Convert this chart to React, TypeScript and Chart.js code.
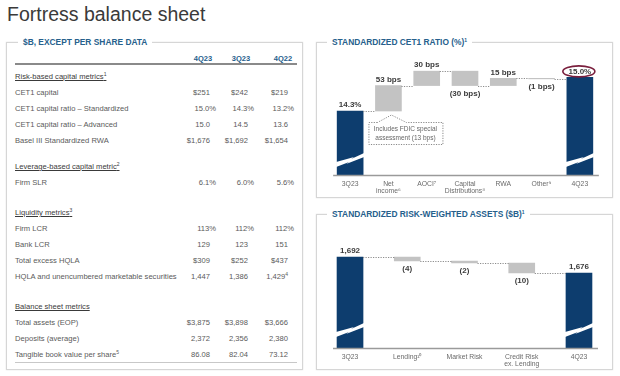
import React, { useEffect, useRef } from 'react';
import { Chart, registerables } from 'chart.js';
Chart.register(...registerables);

const FONT = '"Liberation Sans", Arial, Helvetica, sans-serif';
const BLUE_TXT = '#26608c';
const BAR_BLUE = '#0d3d6e';
const BAR_GRAY = '#c3c3c3';

// ---------- table data ----------
const tableColumns = ['4Q23', '3Q23', '4Q22'];
const riskHeading = 'Risk-based capital metrics^1';
const riskLabels = ['CET1 capital', 'CET1 capital ratio – Standardized', 'CET1 capital ratio – Advanced', 'Basel III Standardized RWA'];
const riskValues = [['$251', '$242', '$219'], ['15.0%', '14.3%', '13.2%'], ['15.0', '14.5', '13.6'], ['$1,676', '$1,692', '$1,654']];
const leverageHeading = 'Leverage-based capital metric^2';
const leverageLabels = ['Firm SLR'];
const leverageValues = [['6.1%', '6.0%', '5.6%']];
const liquidityHeading = 'Liquidity metrics^3';
const liquidityLabels = ['Firm LCR', 'Bank LCR', 'Total excess HQLA', 'HQLA and unencumbered marketable securities'];
const liquidityValues = [['113%', '112%', '112%'], ['129', '123', '151'], ['$309', '$252', '$437'], ['1,447', '1,386', '1,429^4']];
const balanceHeading = 'Balance sheet metrics';
const balanceLabels = ['Total assets (EOP)', 'Deposits (average)', 'Tangible book value per share^5'];
const balanceValues = [['$3,875', '$3,898', '$3,666'], ['2,372', '2,356', '2,380'], ['86.08', '82.04', '73.12']];

// ---------- CET1 waterfall data ----------
const cetCategories = [['3Q23'], ['Net', 'income⁶'], ['AOCI⁷'], ['Capital', 'Distributions⁸'], ['RWA'], ['Other⁹'], ['4Q23']];
const cetStart = 14.3;
const cetChanges = [0.53, 0.30, -0.30, 0.15, -0.01];
const cetEnd = 15.0;
const cetLabels = ['14.3%', '53 bps', '30 bps', '(30 bps)', '15 bps', '(1 bps)', '15.0%'];
const cetNote = ['Includes FDIC special', 'assessment (13 bps)'];

// ---------- RWA waterfall data ----------
const rwaCategories = [['3Q23'], ['Lending¹⁰'], ['Market Risk'], ['Credit Risk', 'ex. Lending'], ['4Q23']];
const rwaStart = 1692;
const rwaChanges = [-4, -2, -10];
const rwaEnd = 1676;
const rwaLabels = ['1,692', '(4)', '(2)', '(10)', '1,676'];

function buildWaterfall(start: number, changes: number[], end: number) {
  const bars: number[][] = [[0, start]];
  const levels: number[] = [start];
  const neg: boolean[] = [false];
  let cur = start;
  for (const c of changes) {
    const nxt = Math.round((cur + c) * 1000) / 1000;
    bars.push([cur, nxt]);
    neg.push(c < 0);
    cur = nxt;
    levels.push(cur);
  }
  bars.push([0, end]);
  levels.push(end);
  neg.push(false);
  return { bars, levels, neg };
}

function drawBolt(ctx: CanvasRenderingContext2D, l: number, r: number, cy: number) {
  const xm = (l + r) / 2;
  ctx.fillStyle = '#ffffff';
  ctx.beginPath();
  ctx.moveTo(l - 1, cy + 2);
  ctx.lineTo(xm + 4, cy - 3);
  ctx.lineTo(xm + 1, cy - 1);
  ctx.lineTo(r + 1, cy - 7);
  ctx.lineTo(r + 1, cy - 3);
  ctx.lineTo(xm - 4, cy + 4);
  ctx.lineTo(xm - 1, cy + 2);
  ctx.lineTo(l - 1, cy + 7);
  ctx.closePath();
  ctx.fill();
}

const wfPlugin = {
  id: 'wf',
  afterDatasetsDraw(chart: any, _args: any, o: any) {
    const { ctx, chartArea } = chart;
    const ys = chart.scales.y;
    const els = chart.getDatasetMeta(0).data;
    const n = els.length;
    const box = (i: number) => {
      const p = els[i].getProps(['x', 'y', 'base', 'width'], true);
      return { l: p.x - p.width / 2, r: p.x + p.width / 2, x: p.x, t: Math.min(p.y, p.base), b: Math.max(p.y, p.base) };
    };
    ctx.save();
    const b0 = box(0);
    const bn = box(n - 1);
    ctx.strokeStyle = '#9a9a9a';
    ctx.lineWidth = 1.5;
    ctx.beginPath();
    ctx.moveTo(b0.l - 4, chartArea.bottom + 0.5);
    ctx.lineTo(bn.r + 6, chartArea.bottom + 0.5);
    ctx.stroke();
    ctx.setLineDash([1.2, 1.3]);
    ctx.lineWidth = 1;
    ctx.strokeStyle = '#8c8c8c';
    for (let i = 0; i < n - 1; i++) {
      const a = box(i);
      const c = box(i + 1);
      const y = Math.round(ys.getPixelForValue(o.levels[i])) + 0.5;
      ctx.beginPath();
      ctx.moveTo(a.r, y);
      ctx.lineTo(c.l, y);
      ctx.stroke();
    }
    ctx.setLineDash([]);
    [0, n - 1].forEach((i) => {
      const bx = box(i);
      drawBolt(ctx, bx.l, bx.r, chartArea.bottom - o.breakOffset);
    });
    ctx.font = `bold 8px ${FONT}`;
    ctx.fillStyle = '#3c3c3c';
    ctx.textAlign = 'center';
    ctx.textBaseline = 'middle';
    const lastY: number[] = [];
    for (let i = 0; i < n; i++) {
      const bx = box(i);
      const y = o.neg[i] ? bx.b + 8 : bx.t - 6;
      lastY[i] = y;
      ctx.fillText(o.labels[i], bx.x, y);
    }
    if (o.circleLast) {
      const bx = box(n - 1);
      ctx.strokeStyle = '#7a1f3d';
      ctx.lineWidth = 1.6;
      ctx.beginPath();
      ctx.ellipse(bx.x - 1, lastY[n - 1], 16, 5.5, 0, 0, Math.PI * 2);
      ctx.stroke();
    }
    if (o.note) {
      const bx = box(o.note.index);
      const x = bx.x;
      const b = bx.b;
      const L = x - 20, R = x + 54, T = b + 11, B = b + 33;
      ctx.strokeStyle = '#8a8a8a';
      ctx.lineWidth = 1;
      ctx.setLineDash([1.2, 1.3]);
      ctx.beginPath();
      ctx.moveTo(x - 11, T + 0.5);
      ctx.lineTo(L + 0.5, T + 0.5);
      ctx.lineTo(L + 0.5, B + 0.5);
      ctx.lineTo(R + 0.5, B + 0.5);
      ctx.lineTo(R + 0.5, T + 0.5);
      ctx.lineTo(x + 18, T + 0.5);
      ctx.lineTo(x + 3, b + 4);
      ctx.lineTo(x - 11, T + 0.5);
      ctx.stroke();
      ctx.setLineDash([]);
      ctx.font = `6.5px ${FONT}`;
      ctx.fillStyle = '#666';
      const cx = (L + R) / 2;
      o.note.lines.forEach((ln: string, k: number) => ctx.fillText(ln, cx, T + 7.5 + k * 9));
    }
    ctx.restore();
  },
};

type WFProps = {
  categories: string[][];
  start: number;
  changes: number[];
  end: number;
  labels: string[];
  left: number;
  top: number;
  width: number;
  height: number;
  padL: number;
  padR: number;
  padT: number;
  axisH: number;
  yMin: number;
  yMax: number;
  breakOffset: number;
  note?: { index: number; lines: string[] };
  circleLast?: boolean;
};

function Waterfall(p: WFProps) {
  const ref = useRef<HTMLCanvasElement>(null);
  useEffect(() => {
    const { bars, levels, neg } = buildWaterfall(p.start, p.changes, p.end);
    const n = bars.length;
    const colors = bars.map((_, i) => (i === 0 || i === n - 1 ? BAR_BLUE : BAR_GRAY));
    const chart = new Chart(ref.current as HTMLCanvasElement, {
      type: 'bar',
      data: {
        labels: p.categories as any,
        datasets: [
          {
            data: bars as any,
            backgroundColor: colors,
            borderWidth: 0,
            barThickness: 26,
            clip: 0 as any,
          },
        ],
      },
      options: {
        animation: false,
        responsive: false,
        maintainAspectRatio: false,
        layout: { padding: { left: p.padL, right: p.padR, top: p.padT, bottom: 0 } },
        plugins: {
          legend: { display: false },
          tooltip: { enabled: false },
          wf: { levels, neg, labels: p.labels, breakOffset: p.breakOffset, note: p.note, circleLast: p.circleLast },
        } as any,
        scales: {
          x: {
            grid: { display: false, drawTicks: false },
            border: { display: false },
            ticks: { color: '#6a6a6a', font: { family: FONT, size: 6.8, lineHeight: 1.1 }, padding: 5, maxRotation: 0, autoSkip: false },
            afterFit: (s: any) => {
              s.height = p.axisH;
            },
          },
          y: { display: false, min: p.yMin, max: p.yMax },
        },
      },
      plugins: [wfPlugin as any],
    });
    return () => chart.destroy();
  }, []);
  return (
    <canvas
      ref={ref}
      width={p.width}
      height={p.height}
      style={{ position: 'absolute', left: p.left, top: p.top, width: p.width, height: p.height }}
    />
  );
}

function Sup({ text }: { text: string }) {
  const [a, b] = text.split('^');
  return (
    <>
      {a}
      {b && <sup style={{ fontSize: '5px', verticalAlign: '3px', lineHeight: 0 }}>{b}</sup>}
    </>
  );
}

function Panel(props: { left: number; top: number; width: number; height: number; title: string; titleLeft: number }) {
  return (
    <div
      style={{
        position: 'absolute',
        left: props.left,
        top: props.top,
        width: props.width,
        height: props.height,
        border: '1px solid #d6d6d6',
        boxShadow: '0 0 1.5px rgba(0,0,0,0.12)',
        boxSizing: 'border-box',
      }}
    >
      <div
        style={{
          position: 'absolute',
          left: props.titleLeft,
          top: -6.5,
          background: '#fff',
          padding: '0 5px',
          font: `bold 8.4px ${FONT}`,
          lineHeight: '11px',
          color: BLUE_TXT,
          whiteSpace: 'nowrap',
        }}
      >
        <Sup text={props.title} />
      </div>
    </div>
  );
}

const COL_RIGHT = [210, 248, 288];
const TABLE_LEFT = 15;
const ROW_H = 16;

function ValueCells({ vals }: { vals: string[] }) {
  return (
    <>
      {vals.map((v, i) => {
        const pct = v.endsWith('%');
        const right = COL_RIGHT[i] + (pct ? 6 : 0) - TABLE_LEFT;
        return (
          <div key={i} style={{ position: 'absolute', left: 0, top: 0, width: right, textAlign: 'right', whiteSpace: 'nowrap' }}>
            <Sup text={v} />
          </div>
        );
      })}
    </>
  );
}

function Section({ heading, labels, values, gap }: { heading: string; labels: string[]; values: string[][]; gap: number }) {
  return (
    <div style={{ marginTop: gap }}>
      <div style={{ height: ROW_H, lineHeight: ROW_H + 'px', color: '#3a3a3a', whiteSpace: 'nowrap' }}>
        <span style={{ textDecoration: 'underline' }}>
          <Sup text={heading} />
        </span>
      </div>
      {labels.map((l, i) => (
        <div key={i} style={{ position: 'relative', height: ROW_H, lineHeight: ROW_H + 'px', whiteSpace: 'nowrap' }}>
          <Sup text={l} />
          <ValueCells vals={values[i]} />
        </div>
      ))}
    </div>
  );
}

export default function App() {
  useEffect(() => {
    document.body.style.margin = '0';
  }, []);
  return (
    <div style={{ position: 'fixed', left: 0, top: 0, width: 620, height: 376, background: '#fff', overflow: 'hidden', fontFamily: FONT }}>
      <div style={{ position: 'absolute', left: 7, top: 3, font: `19.5px ${FONT}`, lineHeight: '22px', color: '#3a3a3a', whiteSpace: 'nowrap' }}>
        Fortress balance sheet
      </div>

      <Panel left={6} top={42} width={297} height={328} title="$B, EXCEPT PER SHARE DATA" titleLeft={11} />
      <Panel left={316} top={42} width={297} height={156} title="STANDARDIZED CET1 RATIO (%)^1" titleLeft={10} />
      <Panel left={316} top={214} width={297} height={156} title="STANDARDIZED RISK-WEIGHTED ASSETS ($B)^1" titleLeft={10} />

      {/* table column headers */}
      <div style={{ position: 'absolute', left: TABLE_LEFT, top: 53, height: 12, width: 282, font: `bold 7.5px ${FONT}`, lineHeight: '12px', color: BLUE_TXT }}>
        {tableColumns.map((c, i) => (
          <div key={c} style={{ position: 'absolute', left: COL_RIGHT[i] - TABLE_LEFT - 30 + (i === 2 ? 2 : 0), width: 46, textAlign: 'center' }}>
            {c}
          </div>
        ))}
      </div>
      <div style={{ position: 'absolute', left: TABLE_LEFT, top: 63, width: 282, height: 2, background: '#8a8a8a' }} />

      <div style={{ position: 'absolute', left: TABLE_LEFT, top: 69, width: 282, font: `7.6px ${FONT}`, color: '#5a5a5a' }}>
        <Section heading={riskHeading} labels={riskLabels} values={riskValues} gap={0} />
        <Section heading={leverageHeading} labels={leverageLabels} values={leverageValues} gap={10} />
        <Section heading={liquidityHeading} labels={liquidityLabels} values={liquidityValues} gap={14} />
        <Section heading={balanceHeading} labels={balanceLabels} values={balanceValues} gap={14} />
      </div>
      <div style={{ position: 'absolute', left: TABLE_LEFT, top: 362, width: 282, height: 1, background: '#c8c8c8' }} />

      <Waterfall
        categories={cetCategories}
        start={cetStart}
        changes={cetChanges}
        end={cetEnd}
        labels={cetLabels}
        left={316}
        top={50}
        width={297}
        height={148}
        padL={15}
        padR={14}
        padT={8}
        axisH={23}
        yMin={12.967}
        yMax={15.404}
        breakOffset={15}
        note={{ index: 1, lines: cetNote }}
        circleLast
      />
      <Waterfall
        categories={rwaCategories}
        start={rwaStart}
        changes={rwaChanges}
        end={rwaEnd}
        labels={rwaLabels}
        left={316}
        top={222}
        width={297}
        height={148}
        padL={5.4}
        padR={5.4}
        padT={8}
        axisH={22}
        yMin={1601}
        yMax={1719}
        breakOffset={18}
      />
    </div>
  );
}
